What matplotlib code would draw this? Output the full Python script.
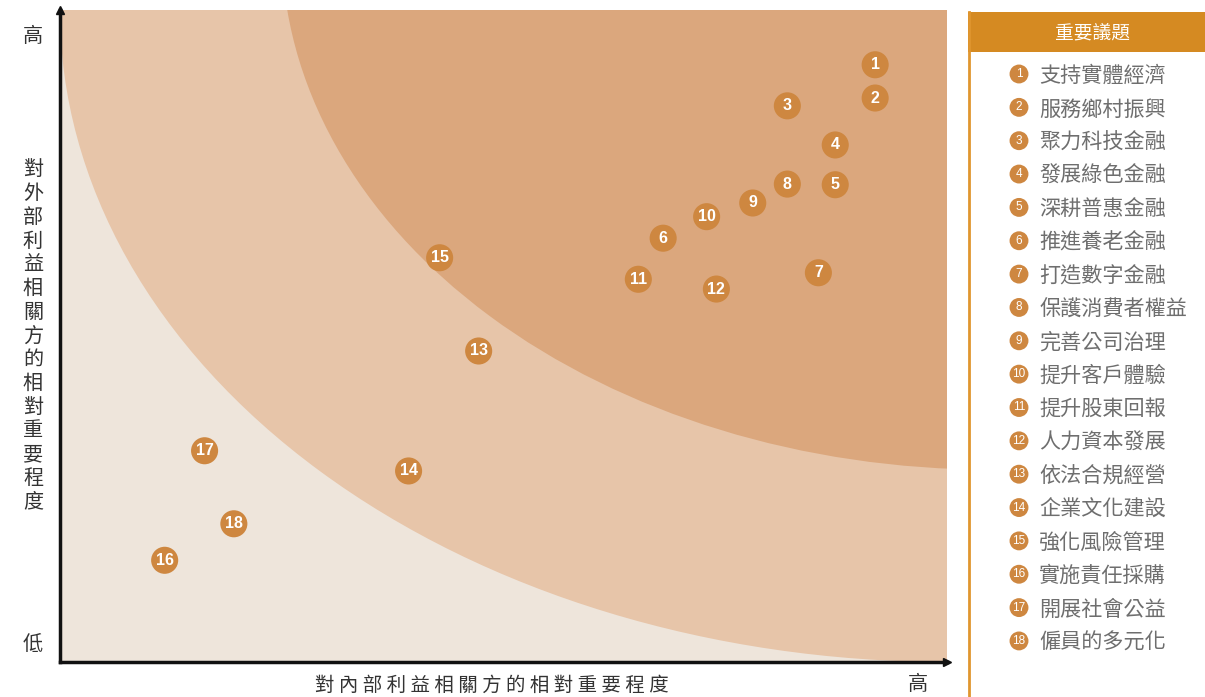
import matplotlib
matplotlib.use("Agg")
import matplotlib.pyplot as plt
from matplotlib.patches import Ellipse, Rectangle

plt.rcParams['font.family'] = ['Noto Sans CJK TC', 'DejaVu Sans']

# 議題編號與名稱
ids = list(range(1, 19))
names = ['支持實體經濟', '服務鄉村振興', '聚力科技金融', '發展綠色金融', '深耕普惠金融',
         '推進養老金融', '打造數字金融', '保護消費者權益', '完善公司治理', '提升客戶體驗',
         '提升股東回報', '人力資本發展', '依法合規經營', '企業文化建設', '強化風險管理',
         '實施責任採購', '開展社會公益', '僱員的多元化']
# 對內部利益相關方的相對重要程度 (0-10)
internal = [9.19, 9.19, 8.20, 8.74, 8.74, 6.80, 8.55, 8.20, 7.81, 7.29,
            6.52, 7.40, 4.72, 3.93, 4.28, 1.18, 1.63, 1.96]
# 對外部利益相關方的相對重要程度 (0-10)
external = [9.16, 8.65, 8.53, 7.93, 7.32, 6.50, 5.97, 7.33, 7.04, 6.83,
            5.87, 5.72, 4.77, 2.93, 6.20, 1.56, 3.24, 2.12]

c_light = '#EEE5DB'
c_mid = '#E7C5A9'
c_dark = '#DBA77D'
c_dot = '#CE8740'
c_head = '#D58A22'

W, H = 1205, 697
fig = plt.figure(figsize=(W / 100, H / 100), dpi=100)

ax = fig.add_axes([60 / W, 35 / H, 887 / W, 652 / H])
ax.set_xlim(0, 10)
ax.set_ylim(0, 10)
ax.set_facecolor(c_light)
ax.add_patch(Ellipse((10, 10), 20, 20, facecolor=c_mid, edgecolor='none', zorder=0))
ax.add_patch(Ellipse((10.5, 11.0), 16.0, 16.1, facecolor=c_dark, edgecolor='none', zorder=0))

ax.scatter(internal, external, s=380, color=c_dot, edgecolor='none', zorder=3)
for i, x, y in zip(ids, internal, external):
    ax.text(x, y, str(i), color='white', fontsize=11.5, fontweight='bold',
            family='Liberation Sans', ha='center', va='center', zorder=4)

ax.set_xticks([])
ax.set_yticks([])
for s in ['top', 'right']:
    ax.spines[s].set_visible(False)
for s in ['left', 'bottom']:
    ax.spines[s].set_linewidth(2.5)
    ax.spines[s].set_color('#111111')
ax.plot([0], [10], marker='^', color='#111111', markersize=6, clip_on=False, zorder=5)
ax.plot([10], [0], marker='>', color='#111111', markersize=6, clip_on=False, zorder=5)

# 軸標籤
fig.text(33 / W, 1 - 36 / H, '高', fontsize=14.5, color='#333333', ha='center', va='center')
fig.text(33 / W, 1 - 644 / H, '低', fontsize=14.5, color='#333333', ha='center', va='center')
fig.text(918 / W, 1 - 685 / H, '高', fontsize=14.5, color='#333333', ha='center', va='center')
ylab = '對外部利益相關方的相對重要程度'
fig.text(33 / W, 1 - 336 / H, '\n'.join(ylab), fontsize=14.5, color='#333333',
         ha='center', va='center', linespacing=1.17)
xlab = '對內部利益相關方的相對重要程度'
fig.text(492 / W, 1 - 685 / H, ' '.join(xlab), fontsize=14, color='#333333',
         ha='center', va='center')

# 右側重要議題列表
lax = fig.add_axes([0, 0, 1, 1], facecolor='none')
lax.set_xlim(0, W)
lax.set_ylim(H, 0)
lax.axis('off')
lax.add_patch(Rectangle((968, 12), W - 968, 40, facecolor=c_head, edgecolor='none'))
lax.plot([969, 969], [12, H], color='#E0962F', lw=2)
lax.text(1093, 33, '重要議題', color='white', fontsize=13.5, ha='center', va='center')
row_y = [74 + k * 33.35 for k in range(len(ids))]
lax.scatter([1019] * len(ids), row_y, s=185, color=c_dot, edgecolor='none')
for i, nm, y in zip(ids, names, row_y):
    lax.text(1019, y, str(i), color='white', fontsize=8.5, family='Liberation Sans',
             ha='center', va='center')
    lax.text(1039, y + 2, nm, color='#6E6E6E', fontsize=15.2, ha='left', va='center')

fig.savefig('out.png', dpi=100)
